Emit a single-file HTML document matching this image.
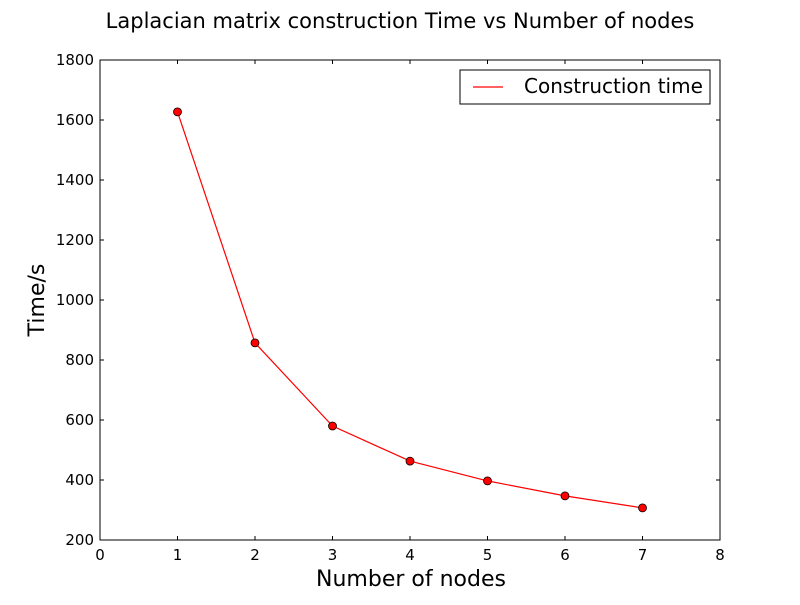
<!DOCTYPE html>
<html><head><meta charset="utf-8"><style>
body{margin:0;background:#fff;}
svg text{font-family:"DejaVu Sans","Liberation Sans",sans-serif;}
</style></head><body>
<svg id="chart" width="800" height="600" xmlns="http://www.w3.org/2000/svg">
<rect width="800" height="600" fill="#fff"/>
<text x="400" y="28" font-size="21" text-anchor="middle">Laplacian matrix construction Time vs Number of nodes</text>
<g id="ticks"></g>
<g id="series"></g>
<rect x="100" y="60" width="620" height="480" fill="none" stroke="#000" stroke-width="1"/>
<text x="411" y="586" font-size="22" text-anchor="middle">Number of nodes</text>
<text x="44" y="300" font-size="22" text-anchor="middle" transform="rotate(-90 44 300)">Time/s</text>
<g>
<rect x="460" y="70" width="250" height="34" fill="#fff" stroke="#000" stroke-width="1"/>
<line x1="473" y1="87" x2="503" y2="87" stroke="red" stroke-width="1.2"/>
<text x="524" y="93" font-size="20">Construction time</text>
</g>
</svg>
<script>
const xValues=[1,2,3,4,5,6,7];
const timeValues=[1627,857,580,463,397,347,307];
const xTicks=[0,1,2,3,4,5,6,7,8];
const yTicks=[200,400,600,800,1000,1200,1400,1600,1800];
const NS="http://www.w3.org/2000/svg";
const L=100,R=720,T=60,B=540;
const xs=v=>L+(v-0)/(8-0)*(R-L);
const ys=v=>B-(v-200)/(1800-200)*(B-T);
function mk(t,a,p){const e=document.createElementNS(NS,t);for(const k in a)e.setAttribute(k,a[k]);p.appendChild(e);return e;}
const tg=document.getElementById('ticks');
xTicks.forEach(v=>{const x=xs(v);
mk('line',{x1:x,y1:B,x2:x,y2:B-4,stroke:'#000'},tg);
mk('line',{x1:x,y1:T,x2:x,y2:T+4,stroke:'#000'},tg);
const t=mk('text',{x:x,y:B+20,'font-size':15,'text-anchor':'middle'},tg);t.textContent=v;

});
yTicks.forEach(v=>{const y=ys(v);
mk('line',{x1:L,y1:y,x2:L+4,y2:y,stroke:'#000'},tg);
mk('line',{x1:R,y1:y,x2:R-4,y2:y,stroke:'#000'},tg);
const t=mk('text',{x:L-6,y:y+5,'font-size':15,'text-anchor':'end'},tg);t.textContent=v;

});
const sg=document.getElementById('series');
const pl=mk('polyline',{points:xValues.map((x,i)=>xs(x)+','+ys(timeValues[i])).join(' '),fill:'none',stroke:'red','stroke-width':1.2},sg);


xValues.forEach((x,i)=>{const c=mk('circle',{cx:xs(x),cy:ys(timeValues[i]),r:4,fill:'red',stroke:'#000','stroke-width':0.8},sg);

});
</script>
</body></html>
